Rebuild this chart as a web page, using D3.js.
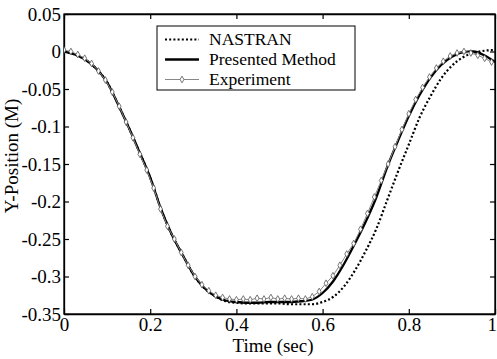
<!DOCTYPE html>
<html>
<head>
<meta charset="utf-8">
<script src="https://cdn.jsdelivr.net/npm/d3@7"></script>
<style>
  html, body { margin: 0; padding: 0; background: #fff; }
  svg { display: block; }
  text { font-family: "Liberation Serif", "Times New Roman", serif; fill: #000; }
</style>
</head>
<body>
<svg id="chart" width="497" height="359"></svg>
<script>
// ---- Data ----
const modelTime = [0, 0.025, 0.05, 0.075, 0.1, 0.125, 0.15, 0.175, 0.2, 0.225, 0.25, 0.275, 0.3, 0.325, 0.35, 0.375, 0.4, 0.425, 0.45, 0.475, 0.5, 0.525, 0.55, 0.575, 0.6, 0.625, 0.65, 0.675, 0.7, 0.725, 0.75, 0.775, 0.8, 0.825, 0.85, 0.875, 0.9, 0.925, 0.95, 0.975, 1.0];

const presentedY = [0, -0.004, -0.011, -0.023, -0.041, -0.070, -0.101, -0.134, -0.168, -0.210, -0.244, -0.271, -0.297, -0.315, -0.326, -0.332, -0.334, -0.335, -0.335, -0.334, -0.334, -0.334, -0.333, -0.331, -0.322, -0.306, -0.283, -0.256, -0.227, -0.194, -0.154, -0.119, -0.086, -0.058, -0.035, -0.018, -0.007, -0.001, 0.000, -0.005, -0.014];

const nastranY = [0, -0.004, -0.011, -0.023, -0.041, -0.070, -0.101, -0.134, -0.168, -0.210, -0.244, -0.271, -0.297, -0.315, -0.326, -0.333, -0.335, -0.336, -0.336, -0.336, -0.336, -0.337, -0.337, -0.337, -0.334, -0.327, -0.313, -0.292, -0.266, -0.236, -0.198, -0.160, -0.124, -0.088, -0.060, -0.036, -0.019, -0.008, -0.002, 0.001, 0.002];

const expTime = [0, 0.016, 0.032, 0.048, 0.064, 0.080, 0.096, 0.112, 0.128, 0.144, 0.160, 0.176, 0.192, 0.208, 0.224, 0.240, 0.256, 0.272, 0.288, 0.304, 0.320, 0.336, 0.352, 0.368, 0.384, 0.400, 0.416, 0.432, 0.448, 0.464, 0.480, 0.496, 0.512, 0.528, 0.544, 0.560, 0.576, 0.592, 0.608, 0.624, 0.640, 0.656, 0.672, 0.688, 0.704, 0.720, 0.736, 0.752, 0.768, 0.784, 0.800, 0.816, 0.832, 0.848, 0.864, 0.880, 0.896, 0.912, 0.928, 0.944, 0.960, 0.976, 0.992];

const expY = [0.002, 0.000, -0.004, -0.009, -0.016, -0.026, -0.038, -0.054, -0.073, -0.094, -0.115, -0.137, -0.158, -0.182, -0.210, -0.233, -0.250, -0.268, -0.285, -0.300, -0.311, -0.319, -0.325, -0.328, -0.330, -0.331, -0.330, -0.331, -0.329, -0.330, -0.328, -0.330, -0.329, -0.330, -0.329, -0.330, -0.327, -0.320, -0.309, -0.299, -0.285, -0.270, -0.256, -0.237, -0.216, -0.194, -0.172, -0.150, -0.127, -0.104, -0.083, -0.064, -0.048, -0.034, -0.022, -0.013, -0.006, -0.002, 0.000, -0.002, -0.005, -0.009, -0.014];

const xTicks = [0, 0.2, 0.4, 0.6, 0.8, 1];
const xTickLabels = ["0", "0.2", "0.4", "0.6", "0.8", "1"];
const yTicks = [0.05, 0, -0.05, -0.1, -0.15, -0.2, -0.25, -0.3, -0.35];
const yTickLabels = ["0.05", "0", "-0.05", "-0.1", "-0.15", "-0.2", "-0.25", "-0.3", "-0.35"];

const seriesNames = ["NASTRAN", "Presented Method", "Experiment"];
const xTitle = "Time (sec)";
const yTitle = "Y-Position (M)";

// ---- Layout ----
const svg = d3.select("#chart");
const L = 64, R = 495, T = 14, B = 314;
const x = d3.scaleLinear().domain([0, 1]).range([L, R]);
const y = d3.scaleLinear().domain([-0.35, 0.05]).range([B, T]);
const FS = 19;

// frame
svg.append("rect").attr("x", L).attr("y", T).attr("width", R - L).attr("height", B - T)
  .attr("fill", "none").attr("stroke", "#000").attr("stroke-width", 1.3);

// axes (inward ticks on all sides)
const tickLen = 5;
const fmtX = (d) => xTickLabels[xTicks.indexOf(d)];
const fmtY = (d) => yTickLabels[yTicks.indexOf(d)];

const gBottom = svg.append("g").attr("transform", `translate(0,${B})`)
  .call(d3.axisBottom(x).tickValues(xTicks).tickFormat(fmtX).tickSizeInner(-tickLen).tickSizeOuter(0).tickPadding(4));
const gTop = svg.append("g").attr("transform", `translate(0,${T})`)
  .call(d3.axisTop(x).tickValues(xTicks).tickFormat("").tickSizeInner(-tickLen).tickSizeOuter(0));
const gLeft = svg.append("g").attr("transform", `translate(${L},0)`)
  .call(d3.axisLeft(y).tickValues(yTicks).tickFormat(fmtY).tickSizeInner(-tickLen).tickSizeOuter(0).tickPadding(3));
const gRight = svg.append("g").attr("transform", `translate(${R},0)`)
  .call(d3.axisRight(y).tickValues(yTicks).tickFormat("").tickSizeInner(-tickLen).tickSizeOuter(0));

[gBottom, gTop, gLeft, gRight].forEach(g => {
  g.select(".domain").attr("stroke", "#000").attr("stroke-width", 1.3);
  g.selectAll(".tick line").attr("stroke", "#000").attr("stroke-width", 1.2);
  g.selectAll("text").attr("font-size", FS).attr("font-family", "Liberation Serif, Times New Roman, serif").attr("fill", "#000");
});
// keep the last x label inside the picture edge
gBottom.selectAll(".tick text").filter(d => d === 1).attr("text-anchor", "end").attr("x", 1.5);

// clip
svg.append("clipPath").attr("id", "clip").append("rect")
  .attr("x", L).attr("y", T - 3).attr("width", R - L).attr("height", B - T + 3);

const plot = svg.append("g").attr("clip-path", "url(#clip)");

const lineGen = d3.line().x(d => x(d[0])).y(d => y(d[1])).curve(d3.curveMonotoneX);
const nastranData = modelTime.map((t, i) => [t, nastranY[i]]);
const presentedData = modelTime.map((t, i) => [t, presentedY[i]]);
const expData = expTime.map((t, i) => [t, expY[i]]);

plot.append("path").datum(nastranData).attr("d", lineGen)
  .attr("fill", "none").attr("stroke", "#000").attr("stroke-width", 2.2).attr("stroke-dasharray", "2,2.2");
plot.append("path").datum(presentedData).attr("d", lineGen)
  .attr("fill", "none").attr("stroke", "#000").attr("stroke-width", 2.3);
plot.append("path").datum(expData).attr("d", d3.line().x(d => x(d[0])).y(d => y(d[1])))
  .attr("fill", "none").attr("stroke", "#888").attr("stroke-width", 1);

const diamond = d3.symbol().type(d3.symbolDiamond).size(13);
plot.selectAll(".mk").data(expData).enter().append("path")
  .attr("class", "mk").attr("d", diamond)
  .attr("transform", d => `translate(${x(d[0])},${y(d[1])})`)
  .attr("fill", "#fff").attr("stroke", "#555").attr("stroke-width", 0.8);

// axis titles
svg.append("text").attr("x", 273).attr("y", 352).attr("text-anchor", "middle")
  .attr("font-size", FS).text(xTitle);
svg.append("text").attr("transform", "translate(18,156) rotate(-90)").attr("text-anchor", "middle")
  .attr("font-size", FS).text(yTitle);

// legend
const lg = svg.append("g");
lg.append("rect").attr("x", 157).attr("y", 26).attr("width", 198).attr("height", 64)
  .attr("fill", "#fff").attr("stroke", "#000").attr("stroke-width", 1);
const rowsY = [39.5, 59.5, 79.5];
lg.append("line").attr("x1", 165).attr("x2", 199).attr("y1", rowsY[0]).attr("y2", rowsY[0])
  .attr("stroke", "#000").attr("stroke-width", 2.2).attr("stroke-dasharray", "2,2.2");
lg.append("line").attr("x1", 165).attr("x2", 199).attr("y1", rowsY[1]).attr("y2", rowsY[1])
  .attr("stroke", "#000").attr("stroke-width", 2.3);
lg.append("line").attr("x1", 165).attr("x2", 199).attr("y1", rowsY[2]).attr("y2", rowsY[2])
  .attr("stroke", "#888").attr("stroke-width", 1);
lg.append("path").attr("d", diamond).attr("transform", `translate(182,${rowsY[2]})`)
  .attr("fill", "#fff").attr("stroke", "#555").attr("stroke-width", 0.8);
seriesNames.forEach((n, i) => {
  lg.append("text").attr("x", 209).attr("y", rowsY[i] + 5).attr("font-size", 17.5).text(n);
});
</script>
</body>
</html>
